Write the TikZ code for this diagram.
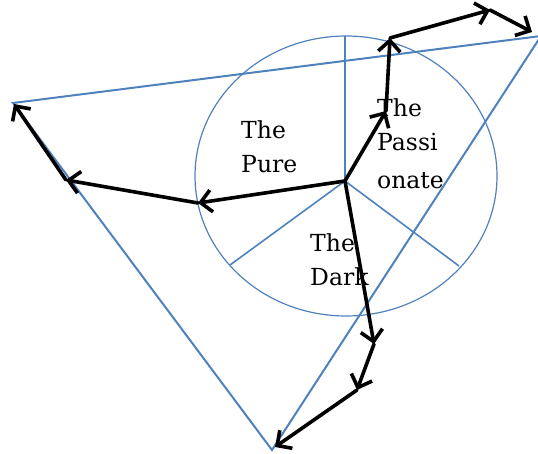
\documentclass[tikz,border=0pt]{standalone}
\usepackage{fontspec}
\setmainfont{DejaVu Serif}
\usetikzlibrary{arrows.meta}
\definecolor{lineblue}{RGB}{79,129,189}
\begin{document}
\begin{tikzpicture}[x=1pt,y=-1pt,
  blueline/.style={draw=lineblue,line width=2pt,line join=miter},
  thinblue/.style={draw=lineblue,line width=1.2pt},
  spoke/.style={draw=lineblue,line width=1.6pt},
  pathArrow/.style={draw=black,line width=3.6pt,line cap=round,line join=round,
    -{Straight Barb[length=11pt,width=22pt,line width=3.6pt]}},
  label/.style={inner sep=0pt,anchor=north west,align=left,
    font=\fontsize{23.5}{34}\selectfont}]
\useasboundingbox (0,0) rectangle (538,454);
% reference points
\coordinate (TL) at (13,103);
\coordinate (TR) at (541,36);
\coordinate (B)  at (272,450);
\coordinate (C)  at (346,176);
\coordinate (hub) at (345,181);
\coordinate (S1) at (345,36);
\coordinate (S2) at (230,265);
\coordinate (S3) at (459,266);
\coordinate (P1) at (386,111);
\coordinate (P2) at (390,38);
\coordinate (P3) at (490,10);
\coordinate (P4) at (532,32);
\coordinate (L1) at (198,203);
\coordinate (L2) at (66,180);
\coordinate (L3) at (14,104);
\coordinate (D1) at (374,344);
\coordinate (D2) at (357,390);
\coordinate (D3) at (275,447);
% circle and spokes
\draw[thinblue] (C) ellipse [x radius=151, y radius=140];
\draw[spoke] (hub) -- (S1);
\draw[spoke] (hub) -- (S2);
\draw[spoke] (hub) -- (S3);
% triangle
\draw[blueline] (TL) -- (TR) -- (B) -- cycle;
% labels
\node[label] (pure) at (241,120) {The\\Pure};
\node[label] (passionate) at (377,98) {The\\Passi\\[4pt]onate};
\node[label] (dark) at (310,233) {The\\Dark};
% arrows
\draw[pathArrow] (hub) -- (P1);
\draw[pathArrow] (P1) -- (P2);
\draw[pathArrow] (P2) -- (P3);
\draw[pathArrow] (P3) -- (P4);
\draw[pathArrow] (hub) -- (L1);
\draw[pathArrow] (L1) -- (L2);
\draw[pathArrow] (L2) -- (L3);
\draw[pathArrow] (hub) -- (D1);
\draw[pathArrow] (D1) -- (D2);
\draw[pathArrow] (D2) -- (D3);
\end{tikzpicture}
\end{document}
